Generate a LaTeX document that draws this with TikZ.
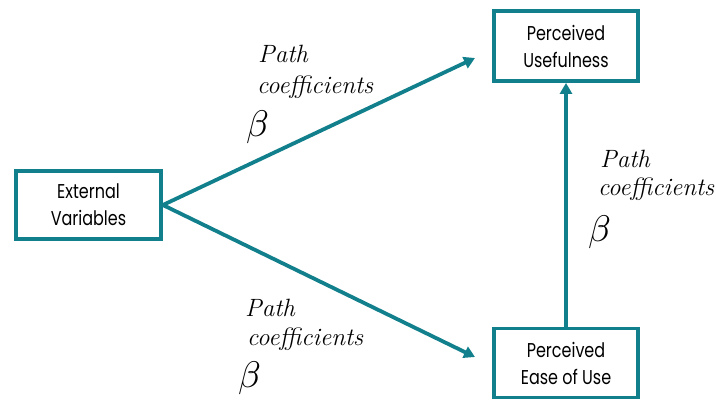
\documentclass[tikz,border=0pt]{standalone}
\usepackage{graphicx}
\usepackage{fontspec}
\setsansfont[FakeStretch=0.8]{Poppins}
\usetikzlibrary{arrows.meta}
\definecolor{teal1}{RGB}{18,128,140}
\begin{document}
\begin{tikzpicture}[x=1pt,y=-1pt,
  box/.style={draw=teal1,line width=3.8pt,fill=white,align=center,font=\sffamily\fontsize{20}{27}\selectfont,inner sep=0pt},
  conn/.style={draw=teal1,line width=3.8pt,-{Triangle[length=11pt,width=12pt]}},
  lbl/.style={anchor=base west,inner sep=0pt,font=\itshape\fontsize{25}{28}\selectfont},
  beta/.style={anchor=base west,inner sep=0pt}]
\useasboundingbox (0,0) rectangle (716,400);
\node[box,minimum width=145pt,minimum height=68pt] (ev) at (88.5,205) {External\\Variables};
\node[box,minimum width=144pt,minimum height=70pt] (pu) at (566,46) {Perceived\\Usefulness};
\node[box,minimum width=144pt,minimum height=69pt] (pe) at (566,363) {Perceived\\Ease of Use};
\coordinate (evr) at (ev.east);
\coordinate (t1) at (475,58);
\coordinate (t2) at (475,357);
\draw[conn] (evr) -- (t1);
\draw[conn] (evr) -- (t2);
\draw[conn] (pe.north) -- (pu.south);
\node[lbl] (l1a) at (258,62) {Path};
\node[lbl] (l1b) at (257,93) {coefficients};
\node[beta] (b1) at (246,136) {\scalebox{3.7}{$\beta$}};
\node[lbl] (l2a) at (600,167) {Path};
\node[lbl] (l2b) at (598,195) {coefficients};
\node[beta] (b2) at (588,241) {\scalebox{3.7}{$\beta$}};
\node[lbl] (l3a) at (245,316) {Path};
\node[lbl] (l3b) at (247,345) {coefficients};
\node[beta] (b3) at (238,387) {\scalebox{3.7}{$\beta$}};
\end{tikzpicture}
\end{document}
